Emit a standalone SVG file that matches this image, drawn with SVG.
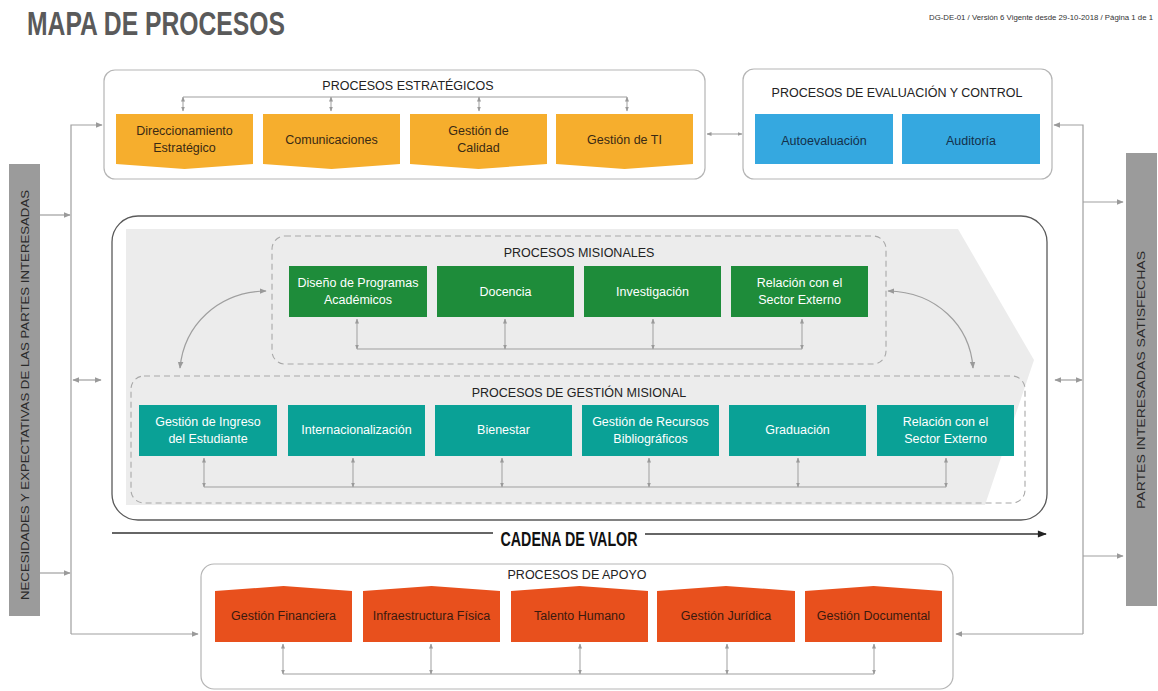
<svg xmlns="http://www.w3.org/2000/svg" width="1158" height="691" viewBox="0 0 1158 691">
<defs>
<marker id="ah" viewBox="0 0 10 10" refX="9" refY="5" markerWidth="7" markerHeight="7" markerUnits="userSpaceOnUse" orient="auto-start-reverse"><path d="M0,1 L10,5 L0,9 z" fill="#9a9a9a"/></marker>
<marker id="ahs" viewBox="0 0 10 10" refX="9" refY="5" markerWidth="5" markerHeight="5" markerUnits="userSpaceOnUse" orient="auto-start-reverse"><path d="M0,1 L10,5 L0,9 z" fill="#9a9a9a"/></marker>
<marker id="ahb" viewBox="0 0 10 10" refX="9" refY="5" markerWidth="10" markerHeight="9" markerUnits="userSpaceOnUse" orient="auto"><path d="M0,1 L10,5 L0,9 z" fill="#222"/></marker>
</defs>
<style>
text{font-family:"Liberation Sans",Arial,sans-serif;}
.grp{fill:#fff;stroke:#b5b5b5;stroke-width:1.2;}
.dash{fill:none;stroke:#a8a8a8;stroke-width:1.1;stroke-dasharray:6 4;}
.c{fill:none;stroke:#9f9f9f;stroke-width:1.2;}
.cs{fill:none;stroke:#9f9f9f;stroke-width:1;}
.ttl{font-size:12.5px;fill:#222;text-anchor:middle;}
.lbl{font-size:12.5px;text-anchor:middle;}
.or{fill:#F6AE2D;}
.bl{fill:#35A8E0;}
.gr{fill:#1E8C3A;}
.te{fill:#0AA196;}
.rd{fill:#E8501D;}
.dk{fill:#3a2a14;}
.nv{fill:#14304a;}
.wh{fill:#fff;}
.rdk{fill:#3b1a0e;}
.bar{fill:#9b9b9b;}
.bartxt{font-size:11px;fill:#2a2a2a;text-anchor:middle;}
</style>
<rect width="1158" height="691" fill="#fff"/>
<text x="27" y="35" font-size="33" font-weight="bold" fill="#5a5a5a" textLength="258" lengthAdjust="spacingAndGlyphs">MAPA DE PROCESOS</text>
<text x="1153" y="20" font-size="7.8" fill="#333" text-anchor="end">DG-DE-01 / Versión 6 Vigente desde 29-10-2018 / Página 1 de 1</text>

<g id="necesidades">
<rect class="bar" x="9" y="164" width="31" height="452"/>
<text class="bartxt" transform="translate(29,395) rotate(-90)" textLength="410" lengthAdjust="spacingAndGlyphs">NECESIDADES Y EXPECTATIVAS DE LAS PARTES INTERESADAS</text>
</g>
<g id="satisfechas">
<rect class="bar" x="1126" y="153" width="31" height="453"/>
<text class="bartxt" transform="translate(1145,380) rotate(-90)" textLength="258" lengthAdjust="spacingAndGlyphs">PARTES INTERESADAS SATISFECHAS</text>
</g>

<g id="estrategicos">
<rect class="grp" x="104" y="70" width="601" height="109" rx="11"/>
<text class="ttl" x="408" y="90">PROCESOS ESTRATÉGICOS</text>
<g id="direccionamiento"><polygon class="or" points="116,114 253,114 253,164 184.5,169 116,164"/><text class="lbl dk" x="184.5" y="135">Direccionamiento</text><text class="lbl dk" x="184.5" y="152">Estratégico</text></g>
<g id="comunicaciones"><polygon class="or" points="263,114 400,114 400,164 331.5,169 263,164"/><text class="lbl dk" x="331.5" y="144">Comunicaciones</text></g>
<g id="calidad"><polygon class="or" points="410,114 547,114 547,164 478.5,169 410,164"/><text class="lbl dk" x="478.5" y="135">Gestión de</text><text class="lbl dk" x="478.5" y="152">Calidad</text></g>
<g id="gestion-ti"><polygon class="or" points="556,114 693,114 693,164 624.5,169 556,164"/><text class="lbl dk" x="624.5" y="144">Gestión de TI</text></g>
</g>

<g id="evaluacion">
<rect class="grp" x="743" y="69" width="309" height="110" rx="11"/>
<text class="ttl" x="897" y="97">PROCESOS DE EVALUACIÓN Y CONTROL</text>
<g id="autoevaluacion"><rect class="bl" x="755" y="114" width="138" height="50"/><text class="lbl nv" x="824" y="145">Autoevaluación</text></g>
<g id="auditoria"><rect class="bl" x="902" y="114" width="138" height="50"/><text class="lbl nv" x="971" y="145">Auditoría</text></g>
</g>

<g id="cadena">
<rect x="112" y="216" width="935" height="304" rx="26" fill="#fff" stroke="#5a5a5a" stroke-width="1.3"/>
<polygon points="126,229 958,229 1034,360 985,505 126,505" fill="#ececec"/>
</g>

<g id="misionales">
<rect class="dash" x="272" y="236" width="614" height="128" rx="13"/>
<text class="ttl" x="579" y="257">PROCESOS MISIONALES</text>
<g id="diseno"><rect class="gr" x="289" y="266" width="138" height="51"/><text class="lbl wh" x="358" y="287">Diseño de Programas</text><text class="lbl wh" x="358" y="304">Académicos</text></g>
<g id="docencia"><rect class="gr" x="437" y="266" width="137" height="51"/><text class="lbl wh" x="505.5" y="296">Docencia</text></g>
<g id="investigacion"><rect class="gr" x="584" y="266" width="137" height="51"/><text class="lbl wh" x="652.5" y="296">Investigación</text></g>
<g id="relacion-m"><rect class="gr" x="731" y="266" width="137" height="51"/><text class="lbl wh" x="799.5" y="287">Relación con el</text><text class="lbl wh" x="799.5" y="304">Sector Externo</text></g>
</g>

<g id="gestion-misional">
<rect class="dash" x="131" y="376" width="894" height="127" rx="13"/>
<text class="ttl" x="579" y="397">PROCESOS DE GESTIÓN MISIONAL</text>
<g id="ingreso"><rect class="te" x="139" y="405" width="138" height="51"/><text class="lbl wh" x="208" y="426">Gestión de Ingreso</text><text class="lbl wh" x="208" y="443">del Estudiante</text></g>
<g id="internacionalizacion"><rect class="te" x="288" y="405" width="137" height="51"/><text class="lbl wh" x="356.5" y="434">Internacionalización</text></g>
<g id="bienestar"><rect class="te" x="435" y="405" width="137" height="51"/><text class="lbl wh" x="503.5" y="434">Bienestar</text></g>
<g id="recursos"><rect class="te" x="582" y="405" width="137" height="51"/><text class="lbl wh" x="650.5" y="426">Gestión de Recursos</text><text class="lbl wh" x="650.5" y="443">Bibliográficos</text></g>
<g id="graduacion"><rect class="te" x="729" y="405" width="137" height="51"/><text class="lbl wh" x="797.5" y="434">Graduación</text></g>
<g id="relacion-g"><rect class="te" x="877" y="405" width="137" height="51"/><text class="lbl wh" x="945.5" y="426">Relación con el</text><text class="lbl wh" x="945.5" y="443">Sector Externo</text></g>
</g>

<g id="cadena-valor">
<text x="569" y="546" font-size="21" font-weight="bold" fill="#111" text-anchor="middle" textLength="137" lengthAdjust="spacingAndGlyphs">CADENA DE VALOR</text>
</g>

<g id="apoyo">
<rect class="grp" x="201" y="564" width="752" height="125" rx="13"/>
<text class="ttl" x="577" y="579">PROCESOS DE APOYO</text>
<g id="financiera"><polygon class="rd" points="215,591 283.5,586 352,591 352,642 215,642"/><text class="lbl rdk" x="283.5" y="620">Gestión Financiera</text></g>
<g id="infraestructura"><polygon class="rd" points="363,591 431.5,586 500,591 500,642 363,642"/><text class="lbl rdk" x="431.5" y="620">Infraestructura Física</text></g>
<g id="talento"><polygon class="rd" points="511,591 579.5,586 648,591 648,642 511,642"/><text class="lbl rdk" x="579.5" y="620">Talento Humano</text></g>
<g id="juridica"><polygon class="rd" points="657,591 726,586 795,591 795,642 657,642"/><text class="lbl rdk" x="726" y="620">Gestión Jurídica</text></g>
<g id="documental"><polygon class="rd" points="805,591 873.5,586 942,591 942,642 805,642"/><text class="lbl rdk" x="873.5" y="620">Gestión Documental</text></g>
</g>

<g id="connectors">
<path class="cs" d="M183,97 H627"/>
<path class="cs" d="M183,97 V111" marker-end="url(#ahs)" marker-start="url(#ahs)"/>
<path class="cs" d="M331,97 V111" marker-end="url(#ahs)" marker-start="url(#ahs)"/>
<path class="cs" d="M479,97 V111" marker-end="url(#ahs)" marker-start="url(#ahs)"/>
<path class="cs" d="M627,97 V111" marker-end="url(#ahs)" marker-start="url(#ahs)"/>
<path class="c" d="M707,134 H742" marker-start="url(#ahs)" marker-end="url(#ahs)"/>
<path class="cs" d="M357,349 H802"/>
<path class="cs" d="M357,319 V349" marker-start="url(#ahs)" marker-end="url(#ahs)"/>
<path class="cs" d="M505,319 V349" marker-start="url(#ahs)" marker-end="url(#ahs)"/>
<path class="cs" d="M653,319 V349" marker-start="url(#ahs)" marker-end="url(#ahs)"/>
<path class="cs" d="M802,319 V349" marker-start="url(#ahs)" marker-end="url(#ahs)"/>
<path class="cs" d="M204,487 H946"/>
<path class="cs" d="M204,458 V487" marker-start="url(#ahs)" marker-end="url(#ahs)"/>
<path class="cs" d="M353,458 V487" marker-start="url(#ahs)" marker-end="url(#ahs)"/>
<path class="cs" d="M502,458 V487" marker-start="url(#ahs)" marker-end="url(#ahs)"/>
<path class="cs" d="M649,458 V487" marker-start="url(#ahs)" marker-end="url(#ahs)"/>
<path class="cs" d="M798,458 V487" marker-start="url(#ahs)" marker-end="url(#ahs)"/>
<path class="cs" d="M946,458 V487" marker-start="url(#ahs)" marker-end="url(#ahs)"/>
<path class="c" d="M266,291 C218,292 184,325 180,368" marker-start="url(#ah)" marker-end="url(#ah)"/>
<path class="c" d="M888,291 C936,292 970,325 973,368" marker-start="url(#ah)" marker-end="url(#ah)"/>
<path class="cs" d="M283,674 H874"/>
<path class="cs" d="M283,644 V674" marker-start="url(#ahs)" marker-end="url(#ahs)"/>
<path class="cs" d="M431,644 V674" marker-start="url(#ahs)" marker-end="url(#ahs)"/>
<path class="cs" d="M580,644 V674" marker-start="url(#ahs)" marker-end="url(#ahs)"/>
<path class="cs" d="M727,644 V674" marker-start="url(#ahs)" marker-end="url(#ahs)"/>
<path class="cs" d="M874,644 V674" marker-start="url(#ahs)" marker-end="url(#ahs)"/>
<path d="M112,533 H493" fill="none" stroke="#333" stroke-width="1.4"/>
<path d="M645,534 H1046" fill="none" stroke="#333" stroke-width="1.4" marker-end="url(#ahb)"/>
<path class="c" d="M71,634 V125 H102" marker-end="url(#ah)"/>
<path class="c" d="M71,634 H198" marker-end="url(#ah)"/>
<path class="c" d="M40,215 H70" marker-end="url(#ah)"/>
<path class="c" d="M40,573 H70" marker-end="url(#ah)"/>
<path class="c" d="M73,380 H101" marker-start="url(#ah)" marker-end="url(#ah)"/>
<path class="c" d="M1083,634 V125 H1054" marker-end="url(#ah)"/>
<path class="c" d="M1083,634 H956" marker-end="url(#ah)"/>
<path class="c" d="M1083,202 H1123" marker-end="url(#ah)"/>
<path class="c" d="M1083,556 H1123" marker-end="url(#ah)"/>
<path class="c" d="M1055,380 H1082" marker-start="url(#ah)" marker-end="url(#ah)"/>
</g>
</svg>
